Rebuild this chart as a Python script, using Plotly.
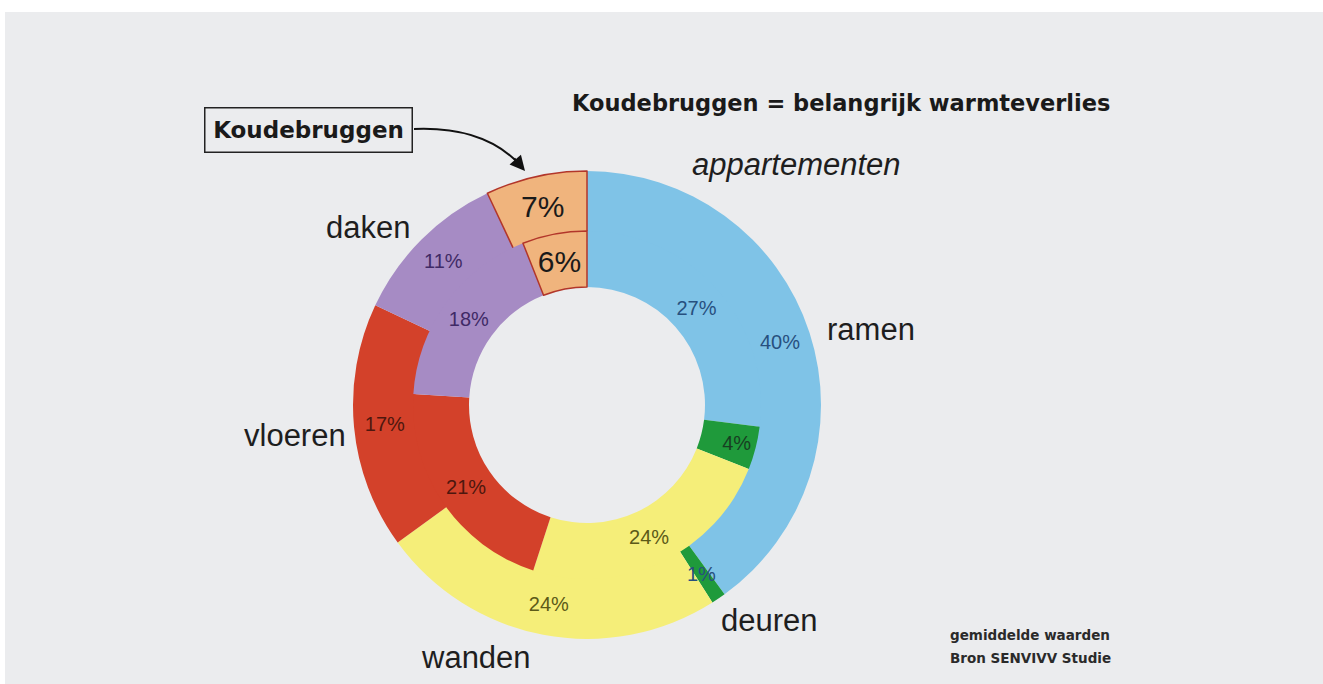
import math
import plotly.graph_objects as go

# ---- data ----
categories = ["ramen", "deuren", "wanden", "vloeren", "daken", "koudebruggen"]
outer_values = [40, 1, 24, 17, 11, 7]   # outer ring (%)
inner_values = [27, 4, 24, 21, 18, 6]   # inner ring (%)
slice_colors = ["#7fc3e7", "#1f9a3b", "#f5ee79", "#d3412a", "#a68bc4", "#f0b47d"]
text_colors = ["#27507f", "#173f22", "#5c5a18", "#4e170e", "#3f2a66", "#1a1a1a"]
line_colors = ["rgba(0,0,0,0)"] * 5 + ["#b2362a"]
line_widths = [0, 0, 0, 0, 0, 1.5]
text_sizes = [20, 20, 20, 20, 20, 30]

title_text = "Koudebruggen = belangrijk warmteverlies"
subtitle_text = "appartementen"
callout_text = "Koudebruggen"
footnote_lines = ["gemiddelde waarden", "Bron SENVIVV Studie"]

W, H = 1323, 684
cx, cy = 587, 405          # donut centre (px from top-left)
R_out, R_mid, R_hole = 234, 174, 118
PANEL = "#ebecee"


def px(x):
    return x / W


def py(y):
    return 1 - y / H


def ring(values, r, hole, texts):
    return go.Pie(
        labels=categories,
        values=values,
        sort=False,
        direction="clockwise",
        rotation=0,
        hole=hole,
        domain=dict(x=[px(cx - r), px(cx + r)], y=[py(cy + r), py(cy - r)]),
        marker=dict(colors=slice_colors, line=dict(color=line_colors, width=line_widths)),
        text=texts,
        textinfo="text",
        textposition="inside",
        insidetextorientation="horizontal",
        textfont=dict(family="Liberation Sans, Arial, sans-serif", size=text_sizes, color=text_colors),
        hoverinfo="label+value",
        showlegend=False,
    )


# slices too thin for an inside label get their label as an annotation instead
min_inside = 2
outer_texts = [f"{v}%" if v >= min_inside else "" for v in outer_values]
inner_texts = [f"{v}%" for v in inner_values]

fig = go.Figure([
    ring(outer_values, R_out, (R_mid - 2) / R_out, outer_texts),
    ring(inner_values, R_mid, R_hole / R_mid, inner_texts),
])

annotations = []
total = sum(outer_values)
cum = 0
r_lab = (R_out + R_mid) / 2
for i, v in enumerate(outer_values):
    if v < min_inside:
        ang = math.radians(360 * (cum + v / 2) / total)
        annotations.append(dict(
            x=px(cx + r_lab * math.sin(ang)), y=py(cy - r_lab * math.cos(ang)),
            xref="paper", yref="paper", text=f"{v}%", showarrow=False,
            xanchor="center", yanchor="middle",
            font=dict(family="Liberation Sans, Arial, sans-serif", size=text_sizes[i], color=text_colors[0])))
    cum += v

label_font = dict(family="Liberation Sans, Arial, sans-serif", size=31, color="#1e1e1e")
label_pos = {
    "daken": (368, 228),
    "ramen": (871, 330),
    "vloeren": (295, 435),
    "wanden": (476, 657),
    "deuren": (769, 620),
}
for name, (x, y) in label_pos.items():
    annotations.append(dict(x=px(x), y=py(y), xref="paper", yref="paper", text=name,
                            showarrow=False, font=label_font, xanchor="center", yanchor="middle"))

annotations.append(dict(x=px(796), y=py(165), xref="paper", yref="paper", text=f"<i>{subtitle_text}</i>",
                        showarrow=False, font=label_font, xanchor="center", yanchor="middle"))
annotations.append(dict(x=px(570), y=py(103), xref="paper", yref="paper", text=f"<b>{title_text}</b>",
                        showarrow=False, xanchor="left", yanchor="middle",
                        font=dict(family="DejaVu Sans, sans-serif", size=22.5, color="#1a1a1a")))
annotations.append(dict(x=px(308.5), y=py(129.5), xref="paper", yref="paper", text=f"<b>{callout_text}</b>",
                        showarrow=False, xanchor="center", yanchor="middle",
                        width=202, height=39, borderpad=2, bordercolor="#222222", borderwidth=1.5,
                        bgcolor=PANEL,
                        font=dict(family="DejaVu Sans, sans-serif", size=23, color="#1a1a1a")))
# arrowhead at the end of the curved connector
annotations.append(dict(x=px(525), y=py(171), xref="paper", yref="paper", text="",
                        showarrow=True, ax=-12, ay=-14, arrowhead=2, arrowsize=1.5,
                        arrowwidth=2, arrowcolor="#111111"))
for line, y in zip(footnote_lines, [635, 658]):
    annotations.append(dict(x=px(948), y=py(y), xref="paper", yref="paper",
                            text=f"<b>{line}</b>", showarrow=False, xanchor="left", yanchor="middle",
                            font=dict(family="DejaVu Sans, sans-serif", size=13.5, color="#2a2a2a")))

shapes = [
    # white page border around the grey panel
    dict(type="rect", xref="paper", yref="paper", x0=0, x1=1, y0=py(12), y1=1,
         fillcolor="white", line=dict(width=0), layer="above"),
    dict(type="rect", xref="paper", yref="paper", x0=0, x1=px(5), y0=0, y1=1,
         fillcolor="white", line=dict(width=0), layer="above"),
    # curved connector
    dict(type="path", xref="paper", yref="paper",
         path=f"M {px(414)},{py(129)} Q {px(485)},{py(126)} {px(521)},{py(166)}",
         line=dict(color="#111111", width=2)),
]

fig.update_layout(
    width=W, height=H,
    margin=dict(l=0, r=0, t=0, b=0),
    paper_bgcolor=PANEL,
    annotations=annotations,
    shapes=shapes,
)

fig.write_html(
    "out.html",
    config={"displayModeBar": False},
    post_script=(
        "document.body.style.margin='0px';"
        "document.body.style.overflow='hidden';"
        f"document.body.style.background='{PANEL}';"
        f"document.documentElement.style.background='{PANEL}';"
    ),
)
